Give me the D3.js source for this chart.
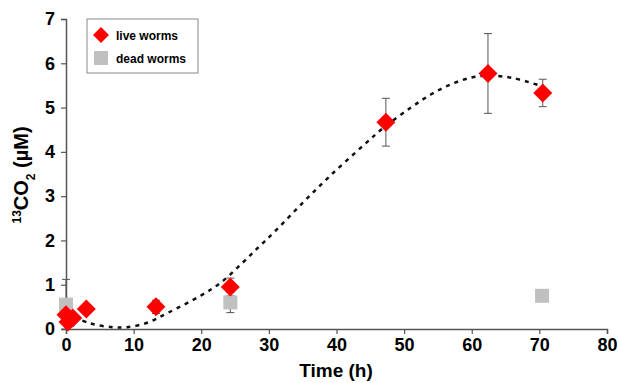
<!DOCTYPE html>
<html>
<head>
<meta charset="utf-8">
<script src="https://cdn.jsdelivr.net/npm/d3@7"></script>
<style>
  body { margin: 0; background: #fff; }
  text { font-family: Arial, "Liberation Sans", sans-serif; font-weight: bold; }
</style>
</head>
<body>
<div id="chart"></div>
<script>
var width = 618;
var height = 383;

// live worms (red diamonds)
var liveTime = [0, 0.3, 1, 3, 13.3, 24.3, 47.3, 62.4, 70.5];
var liveCO2 = [0.32, 0.16, 0.25, 0.45, 0.5, 0.95, 4.67, 5.77, 5.33];
var liveErr = [0, 0, 0, 0, 0.15, 0.2, 0.54, 0.9, 0.31];

// dead worms (grey squares)
var deadTime = [0, 24.3, 70.4];
var deadCO2 = [0.55, 0.6, 0.75];
var deadErr = [0.57, 0.23, 0.12];

// fitted curve
var fitTime = [0, 3.5, 7, 9, 12, 15, 20, 23, 26, 28.5, 31, 35, 39, 44, 47, 51, 54, 57, 60, 62.5, 66, 70];
var fitCO2 = [0.36, 0.13, 0.04, 0.04, 0.14, 0.36, 0.76, 1.06, 1.48, 1.85, 2.22, 2.85, 3.45, 4.15, 4.55, 5.0, 5.3, 5.53, 5.68, 5.72, 5.67, 5.5];

var xTicks = [0, 10, 20, 30, 40, 50, 60, 70, 80];
var yTicks = [0, 1, 2, 3, 4, 5, 6, 7];

var xScale = d3.scaleLinear().domain([0, 80]).range([66, 607]);
var yScale = d3.scaleLinear().domain([0, 7]).range([329, 19]);

var svg = d3.select("#chart").append("svg")
    .attr("width", width)
    .attr("height", height);

// axes
var xAxis = svg.append("g")
    .attr("transform", "translate(0,329)")
    .call(d3.axisBottom(xScale).tickValues(xTicks).tickFormat(d3.format("d")).tickSize(5).tickPadding(4));
var yAxis = svg.append("g")
    .attr("transform", "translate(66,0)")
    .call(d3.axisLeft(yScale).tickValues(yTicks).tickFormat(d3.format("d")).tickSize(5).tickPadding(6));

[xAxis, yAxis].forEach(function(ax) {
    ax.select(".domain").attr("stroke", "#555").attr("stroke-width", 1.5);
    ax.selectAll(".tick line").attr("stroke", "#555").attr("stroke-width", 1.2);
    ax.selectAll(".tick text")
        .attr("fill", "#000")
        .style("font-size", "18px")
        .style("font-weight", "bold")
        .style("font-family", "Arial, 'Liberation Sans', sans-serif");
});

// axis titles
svg.append("text")
    .attr("x", 336)
    .attr("y", 377)
    .attr("text-anchor", "middle")
    .style("font-size", "19px")
    .text("Time (h)");

var yTitle = svg.append("text")
    .attr("transform", "translate(28,175) rotate(-90)")
    .attr("text-anchor", "middle")
    .style("font-size", "20px");
yTitle.append("tspan").attr("baseline-shift", "super").style("font-size", "12px").text("13");
yTitle.append("tspan").text("CO");
yTitle.append("tspan").attr("baseline-shift", "sub").style("font-size", "12px").text("2");
yTitle.append("tspan").text(" (\u00b5M)");

// fitted curve
var line = d3.line()
    .x(function(d) { return xScale(d[0]); })
    .y(function(d) { return yScale(d[1]); })
    .curve(d3.curveCatmullRom);

svg.append("path")
    .datum(d3.zip(fitTime, fitCO2))
    .attr("d", line)
    .attr("fill", "none")
    .attr("stroke", "#111")
    .attr("stroke-width", 2.5)
    .attr("stroke-dasharray", "4,5");

// error bars
function errorBars(ts, vs, es) {
    var g = svg.append("g").attr("stroke", "#555").attr("stroke-width", 1);
    for (var i = 0; i < ts.length; ++i) {
        if (!es[i]) continue;
        var x = xScale(ts[i]);
        var y1 = yScale(vs[i] + es[i]);
        var y2 = yScale(Math.max(0, vs[i] - es[i]));
        g.append("line").attr("x1", x).attr("x2", x).attr("y1", y1).attr("y2", y2);
        g.append("line").attr("x1", x - 4).attr("x2", x + 4).attr("y1", y1).attr("y2", y1);
        g.append("line").attr("x1", x - 4).attr("x2", x + 4).attr("y1", y2).attr("y2", y2);
    }
}
errorBars(deadTime, deadCO2, deadErr);
errorBars(liveTime, liveCO2, liveErr);

// dead worms squares
svg.selectAll("rect.dead")
    .data(d3.zip(deadTime, deadCO2))
    .enter()
    .append("rect")
    .attr("class", "dead")
    .attr("x", function(d) { return xScale(d[0]) - 7; })
    .attr("y", function(d) { return yScale(d[1]) - 7; })
    .attr("width", 14)
    .attr("height", 14)
    .attr("fill", "#c0c0c0");

// live worms diamonds
var diamond = "M0,-9.5L9.5,0L0,9.5L-9.5,0Z";
svg.selectAll("path.live")
    .data(d3.zip(liveTime, liveCO2))
    .enter()
    .append("path")
    .attr("class", "live")
    .attr("d", diamond)
    .attr("transform", function(d) { return "translate(" + xScale(d[0]) + "," + yScale(d[1]) + ")"; })
    .attr("fill", "#ff0000");

// legend
var legend = svg.append("g");
legend.append("rect")
    .attr("x", 87).attr("y", 19)
    .attr("width", 111).attr("height", 54)
    .attr("fill", "#fff")
    .attr("stroke", "#888")
    .attr("stroke-width", 1);
legend.append("path")
    .attr("d", "M0,-8L8,0L0,8L-8,0Z")
    .attr("transform", "translate(101,35)")
    .attr("fill", "#ff0000");
legend.append("rect")
    .attr("x", 94).attr("y", 51)
    .attr("width", 14).attr("height", 14)
    .attr("fill", "#c0c0c0");
legend.append("text")
    .attr("x", 116).attr("y", 40)
    .style("font-size", "12px")
    .text("live worms");
legend.append("text")
    .attr("x", 116).attr("y", 63)
    .style("font-size", "12px")
    .text("dead worms");
</script>
</body>
</html>
